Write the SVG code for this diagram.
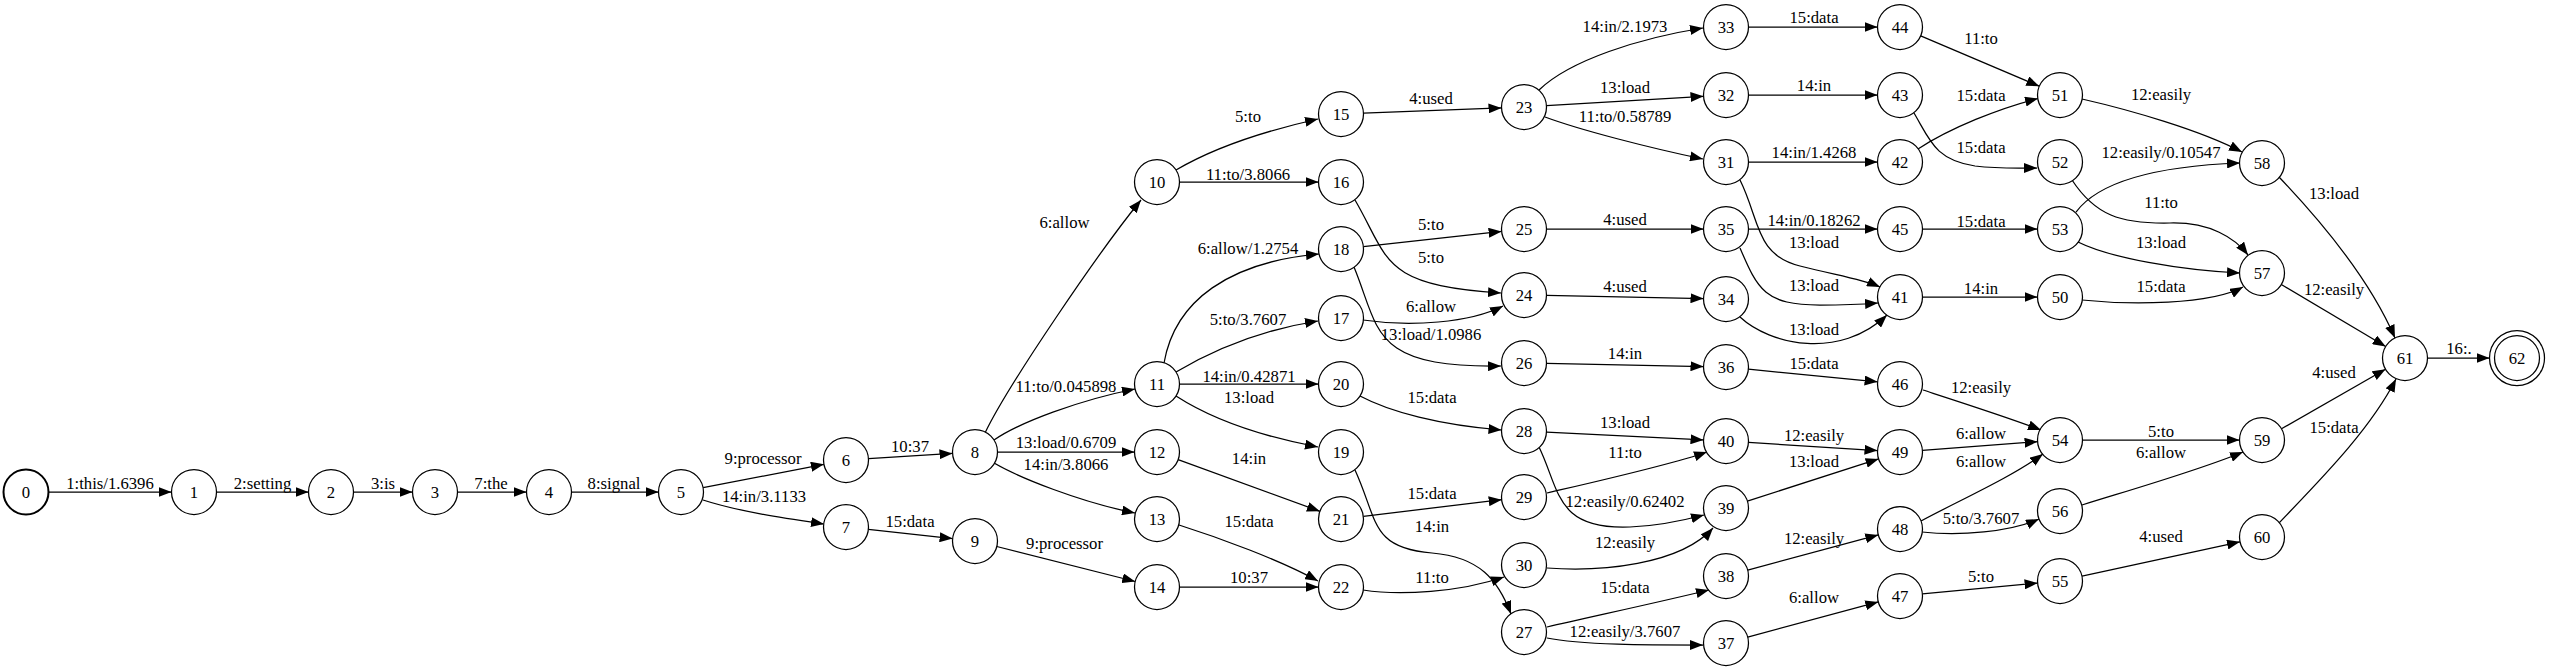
<svg xmlns="http://www.w3.org/2000/svg" width="2550" height="671" viewBox="0 0 2550 671">
<defs>
<marker id="ah" viewBox="0 0 13 10" refX="13" refY="5" markerWidth="13" markerHeight="10" markerUnits="userSpaceOnUse" orient="auto">
<path d="M0,0 L13,5 L0,10 z" fill="#000"/>
</marker>
<style>
.n circle{fill:#fff;stroke:#000;stroke-width:1.25}
.n text,.e text{font-family:"Liberation Serif","Times New Roman",serif;font-size:16.7px;text-anchor:middle;fill:#000}
.e path{fill:none;stroke:#000;stroke-width:1.25;marker-end:url(#ah)}
</style>
</defs>
<rect width="2550" height="671" fill="#fff"/>
<g id="edges">
<g class="e"><path d="M48.5,492 L171.5,492"/><text x="110" y="488.7">1:this/1.6396</text></g>
<g class="e"><path d="M216.5,492 L308.5,492"/><text x="262.5" y="488.7">2:setting</text></g>
<g class="e"><path d="M353.5,492 L412.5,492"/><text x="383" y="488.7">3:is</text></g>
<g class="e"><path d="M457.5,492 L526.5,492"/><text x="491" y="488.7">7:the</text></g>
<g class="e"><path d="M571.5,492 L658.5,492"/><text x="614" y="488.7">8:signal</text></g>
<g class="e"><path d="M703.1,487.7 L823.9,464.3"/><text x="763" y="464">9:processor</text></g>
<g class="e"><path d="M703,500 C740,512 790,519 824,524"/><text x="764" y="502">14:in/3.1133</text></g>
<g class="e"><path d="M868.5,458.6 L952.5,453.4"/><text x="910" y="452">10:37</text></g>
<g class="e"><path d="M868.4,529.4 L952.6,538.6"/><text x="910" y="527">15:data</text></g>
<g class="e"><path d="M985,433 C1008,385 1100,250 1141,200"/><text x="1064.5" y="228">6:allow</text></g>
<g class="e"><path d="M994,440 C1020,422 1080,400 1135,389"/><text x="1066" y="392">11:to/0.045898</text></g>
<g class="e"><path d="M997.5,452 L1134.5,452"/><text x="1066" y="448">13:load/0.6709</text></g>
<g class="e"><path d="M994,463 C1020,478 1080,502 1135,513"/><text x="1066" y="470">14:in/3.8066</text></g>
<g class="e"><path d="M996.8,546.5 L1135.2,581.5"/><text x="1064.5" y="549">9:processor</text></g>
<g class="e"><path d="M1176,170 C1210,150 1260,132 1318,119"/><text x="1248" y="122">5:to</text></g>
<g class="e"><path d="M1179.5,182 L1318.5,182"/><text x="1248" y="180">11:to/3.8066</text></g>
<g class="e"><path d="M1164,363 C1175,300 1230,262 1319,254"/><text x="1248" y="254">6:allow/1.2754</text></g>
<g class="e"><path d="M1176,372 C1210,352 1260,330 1318,321"/><text x="1248" y="325">5:to/3.7607</text></g>
<g class="e"><path d="M1179.5,384 L1318.5,384"/><text x="1249" y="382">14:in/0.42871</text></g>
<g class="e"><path d="M1176,396 C1210,418 1260,436 1318,447"/><text x="1249" y="403">13:load</text></g>
<g class="e"><path d="M1178.1,459.7 L1319.9,511.3"/><text x="1249" y="464">14:in</text></g>
<g class="e"><path d="M1179,525 C1220,538 1280,560 1318,581"/><text x="1249" y="527">15:data</text></g>
<g class="e"><path d="M1179.5,587 L1318.5,587"/><text x="1249" y="583">10:37</text></g>
<g class="e"><path d="M1363.5,113.1 L1501.5,107.9"/><text x="1431" y="104">4:used</text></g>
<g class="e"><path d="M1363.4,246.6 L1501.6,231.4"/><text x="1431" y="230">5:to</text></g>
<g class="e"><path d="M1355,200 C1390,260 1380,285 1501,293"/><text x="1431" y="263">5:to</text></g>
<g class="e"><path d="M1363,320 C1410,327 1470,323 1503,306"/><text x="1431" y="312">6:allow</text></g>
<g class="e"><path d="M1354,267 C1380,330 1370,368 1501,366"/><text x="1431" y="340">13:load/1.0986</text></g>
<g class="e"><path d="M1360,396 C1390,412 1440,425 1501.5,430"/><text x="1432" y="403">15:data</text></g>
<g class="e"><path d="M1355,470 C1378,520 1370,548 1432,553 C1480,557 1498,580 1511,614"/><text x="1432" y="532">14:in</text></g>
<g class="e"><path d="M1363.3,516.3 L1501.7,499.7"/><text x="1432" y="499">15:data</text></g>
<g class="e"><path d="M1363,590 C1400,596 1460,592 1504,577"/><text x="1432" y="583">11:to</text></g>
<g class="e"><path d="M1539,90 C1570,60 1640,38 1703,28"/><text x="1625" y="32">14:in/2.1973</text></g>
<g class="e"><path d="M1546.5,105.7 L1703.5,96.3"/><text x="1625" y="93">13:load</text></g>
<g class="e"><path d="M1545,117 C1580,130 1650,148 1703,159"/><text x="1625" y="122">11:to/0.58789</text></g>
<g class="e"><path d="M1546.5,229 L1703.5,229"/><text x="1625" y="225">4:used</text></g>
<g class="e"><path d="M1546.5,295.4 L1703.5,298.6"/><text x="1625" y="292">4:used</text></g>
<g class="e"><path d="M1546.5,363.4 L1703.5,366.6"/><text x="1625" y="359">14:in</text></g>
<g class="e"><path d="M1546.5,432.1 L1703.5,439.9"/><text x="1625" y="428">13:load</text></g>
<g class="e"><path d="M1539,447 C1560,490 1555,530 1630,527 C1660,526 1685,520 1704,515"/><text x="1625" y="507">12:easily/0.62402</text></g>
<g class="e"><path d="M1547,493 C1590,483 1670,465 1707,452"/><text x="1625" y="458">11:to</text></g>
<g class="e"><path d="M1547,568 C1600,572 1680,565 1713,528"/><text x="1625" y="548">12:easily</text></g>
<g class="e"><path d="M1547,627 C1590,617 1660,602 1709,590"/><text x="1625" y="593">15:data</text></g>
<g class="e"><path d="M1547,638 C1580,645 1650,645 1703,645"/><text x="1625" y="637">12:easily/3.7607</text></g>
<g class="e"><path d="M1748.5,27 L1877.5,27"/><text x="1814" y="23">15:data</text></g>
<g class="e"><path d="M1748.5,95 L1877.5,95"/><text x="1814" y="91">14:in</text></g>
<g class="e"><path d="M1748.5,162 L1877.5,162"/><text x="1814" y="158">14:in/1.4268</text></g>
<g class="e"><path d="M1740,180 C1760,220 1755,255 1800,266 C1840,276 1862,279 1880,287"/><text x="1814" y="248">13:load</text></g>
<g class="e"><path d="M1748.5,229 L1877.5,229"/><text x="1814" y="226">14:in/0.18262</text></g>
<g class="e"><path d="M1740,248 C1758,290 1765,305 1820,305 C1850,305 1865,304 1878,303"/><text x="1814" y="291">13:load</text></g>
<g class="e"><path d="M1740,317 C1770,345 1840,360 1887,315"/><text x="1814" y="335">13:load</text></g>
<g class="e"><path d="M1748.4,369.2 L1877.6,381.8"/><text x="1814" y="369">15:data</text></g>
<g class="e"><path d="M1748.5,442.4 L1877.5,450.6"/><text x="1814" y="441">12:easily</text></g>
<g class="e"><path d="M1747.4,501.1 L1878.6,458.9"/><text x="1814" y="467">13:load</text></g>
<g class="e"><path d="M1747.7,570.1 L1878.3,534.9"/><text x="1814" y="544">12:easily</text></g>
<g class="e"><path d="M1747.7,637.1 L1878.3,601.9"/><text x="1814" y="603">6:allow</text></g>
<g class="e"><path d="M1920.7,35.8 L2039.3,86.2"/><text x="1981" y="44">11:to</text></g>
<g class="e"><path d="M1918,149 C1950,128 2000,108 2038,98.5"/><text x="1981" y="101">15:data</text></g>
<g class="e"><path d="M1914,113 C1930,140 1935,160 1975,166 C2000,169 2020,168 2037,168"/><text x="1981" y="153">15:data</text></g>
<g class="e"><path d="M1922.5,229 L2037.5,229"/><text x="1981" y="227">15:data</text></g>
<g class="e"><path d="M1922.5,297 L2037.5,297"/><text x="1981" y="294">14:in</text></g>
<g class="e"><path d="M1923,390 C1960,402 2010,418 2041,430"/><text x="1981" y="393">12:easily</text></g>
<g class="e"><path d="M1922.4,450.3 L2037.6,441.7"/><text x="1981" y="439">6:allow</text></g>
<g class="e"><path d="M1921,521 C1960,500 2010,478 2043,454"/><text x="1981" y="467">6:allow</text></g>
<g class="e"><path d="M1922,532 C1960,536 2010,532 2039,519"/><text x="1981" y="524">5:to/3.7607</text></g>
<g class="e"><path d="M1922.4,593.9 L2037.6,583.1"/><text x="1981" y="582">5:to</text></g>
<g class="e"><path d="M2082,99 C2130,110 2200,130 2242,152"/><text x="2161" y="100">12:easily</text></g>
<g class="e"><path d="M2076,212 C2100,180 2160,166 2240,163"/><text x="2161" y="158">12:easily/0.10547</text></g>
<g class="e"><path d="M2072,180 C2095,215 2120,224 2170,223 C2210,222 2235,238 2248,255"/><text x="2161" y="208">11:to</text></g>
<g class="e"><path d="M2078,242 C2110,258 2180,270 2240,273"/><text x="2161" y="248">13:load</text></g>
<g class="e"><path d="M2082,300 C2130,305 2210,305 2243,287"/><text x="2161" y="292">15:data</text></g>
<g class="e"><path d="M2082.5,440 L2239.5,440"/><text x="2161" y="437">5:to</text></g>
<g class="e"><path d="M2082,505 C2130,490 2200,470 2243,452"/><text x="2161" y="458">6:allow</text></g>
<g class="e"><path d="M2082,576.2 L2240,541.8"/><text x="2161" y="542">4:used</text></g>
<g class="e"><path d="M2279,177 C2320,220 2370,280 2395,338"/><text x="2334" y="199">13:load</text></g>
<g class="e"><path d="M2281.3,284.5 L2385.7,346.5"/><text x="2334" y="295">12:easily</text></g>
<g class="e"><path d="M2281.5,428.8 L2385.5,369.2"/><text x="2334" y="378">4:used</text></g>
<g class="e"><path d="M2279,523 C2320,480 2370,430 2396,379"/><text x="2334" y="433">15:data</text></g>
<g class="e"><path d="M2427.5,358 L2489.5,358"/><text x="2459" y="354">16:.</text></g>
</g>
<g id="node0" class="n"><circle cx="26" cy="492" r="22.5" style="stroke-width:2"/><text x="26" y="498">0</text></g>
<g id="node1" class="n"><circle cx="194" cy="492" r="22.5"/><text x="194" y="498">1</text></g>
<g id="node2" class="n"><circle cx="331" cy="492" r="22.5"/><text x="331" y="498">2</text></g>
<g id="node3" class="n"><circle cx="435" cy="492" r="22.5"/><text x="435" y="498">3</text></g>
<g id="node4" class="n"><circle cx="549" cy="492" r="22.5"/><text x="549" y="498">4</text></g>
<g id="node5" class="n"><circle cx="681" cy="492" r="22.5"/><text x="681" y="498">5</text></g>
<g id="node6" class="n"><circle cx="846" cy="460" r="22.5"/><text x="846" y="466">6</text></g>
<g id="node7" class="n"><circle cx="846" cy="527" r="22.5"/><text x="846" y="533">7</text></g>
<g id="node8" class="n"><circle cx="975" cy="452" r="22.5"/><text x="975" y="458">8</text></g>
<g id="node9" class="n"><circle cx="975" cy="541" r="22.5"/><text x="975" y="547">9</text></g>
<g id="node10" class="n"><circle cx="1157" cy="182" r="22.5"/><text x="1157" y="188">10</text></g>
<g id="node11" class="n"><circle cx="1157" cy="384" r="22.5"/><text x="1157" y="390">11</text></g>
<g id="node12" class="n"><circle cx="1157" cy="452" r="22.5"/><text x="1157" y="458">12</text></g>
<g id="node13" class="n"><circle cx="1157" cy="519" r="22.5"/><text x="1157" y="525">13</text></g>
<g id="node14" class="n"><circle cx="1157" cy="587" r="22.5"/><text x="1157" y="593">14</text></g>
<g id="node15" class="n"><circle cx="1341" cy="114" r="22.5"/><text x="1341" y="120">15</text></g>
<g id="node16" class="n"><circle cx="1341" cy="182" r="22.5"/><text x="1341" y="188">16</text></g>
<g id="node17" class="n"><circle cx="1341" cy="318" r="22.5"/><text x="1341" y="324">17</text></g>
<g id="node18" class="n"><circle cx="1341" cy="249" r="22.5"/><text x="1341" y="255">18</text></g>
<g id="node19" class="n"><circle cx="1341" cy="452" r="22.5"/><text x="1341" y="458">19</text></g>
<g id="node20" class="n"><circle cx="1341" cy="384" r="22.5"/><text x="1341" y="390">20</text></g>
<g id="node21" class="n"><circle cx="1341" cy="519" r="22.5"/><text x="1341" y="525">21</text></g>
<g id="node22" class="n"><circle cx="1341" cy="587" r="22.5"/><text x="1341" y="593">22</text></g>
<g id="node23" class="n"><circle cx="1524" cy="107" r="22.5"/><text x="1524" y="113">23</text></g>
<g id="node24" class="n"><circle cx="1524" cy="295" r="22.5"/><text x="1524" y="301">24</text></g>
<g id="node25" class="n"><circle cx="1524" cy="229" r="22.5"/><text x="1524" y="235">25</text></g>
<g id="node26" class="n"><circle cx="1524" cy="363" r="22.5"/><text x="1524" y="369">26</text></g>
<g id="node27" class="n"><circle cx="1524" cy="632" r="22.5"/><text x="1524" y="638">27</text></g>
<g id="node28" class="n"><circle cx="1524" cy="431" r="22.5"/><text x="1524" y="437">28</text></g>
<g id="node29" class="n"><circle cx="1524" cy="497" r="22.5"/><text x="1524" y="503">29</text></g>
<g id="node30" class="n"><circle cx="1524" cy="565" r="22.5"/><text x="1524" y="571">30</text></g>
<g id="node31" class="n"><circle cx="1726" cy="162" r="22.5"/><text x="1726" y="168">31</text></g>
<g id="node32" class="n"><circle cx="1726" cy="95" r="22.5"/><text x="1726" y="101">32</text></g>
<g id="node33" class="n"><circle cx="1726" cy="27" r="22.5"/><text x="1726" y="33">33</text></g>
<g id="node34" class="n"><circle cx="1726" cy="299" r="22.5"/><text x="1726" y="305">34</text></g>
<g id="node35" class="n"><circle cx="1726" cy="229" r="22.5"/><text x="1726" y="235">35</text></g>
<g id="node36" class="n"><circle cx="1726" cy="367" r="22.5"/><text x="1726" y="373">36</text></g>
<g id="node37" class="n"><circle cx="1726" cy="643" r="22.5"/><text x="1726" y="649">37</text></g>
<g id="node38" class="n"><circle cx="1726" cy="576" r="22.5"/><text x="1726" y="582">38</text></g>
<g id="node39" class="n"><circle cx="1726" cy="508" r="22.5"/><text x="1726" y="514">39</text></g>
<g id="node40" class="n"><circle cx="1726" cy="441" r="22.5"/><text x="1726" y="447">40</text></g>
<g id="node41" class="n"><circle cx="1900" cy="297" r="22.5"/><text x="1900" y="303">41</text></g>
<g id="node42" class="n"><circle cx="1900" cy="162" r="22.5"/><text x="1900" y="168">42</text></g>
<g id="node43" class="n"><circle cx="1900" cy="95" r="22.5"/><text x="1900" y="101">43</text></g>
<g id="node44" class="n"><circle cx="1900" cy="27" r="22.5"/><text x="1900" y="33">44</text></g>
<g id="node45" class="n"><circle cx="1900" cy="229" r="22.5"/><text x="1900" y="235">45</text></g>
<g id="node46" class="n"><circle cx="1900" cy="384" r="22.5"/><text x="1900" y="390">46</text></g>
<g id="node47" class="n"><circle cx="1900" cy="596" r="22.5"/><text x="1900" y="602">47</text></g>
<g id="node48" class="n"><circle cx="1900" cy="529" r="22.5"/><text x="1900" y="535">48</text></g>
<g id="node49" class="n"><circle cx="1900" cy="452" r="22.5"/><text x="1900" y="458">49</text></g>
<g id="node50" class="n"><circle cx="2060" cy="297" r="22.5"/><text x="2060" y="303">50</text></g>
<g id="node51" class="n"><circle cx="2060" cy="95" r="22.5"/><text x="2060" y="101">51</text></g>
<g id="node52" class="n"><circle cx="2060" cy="162" r="22.5"/><text x="2060" y="168">52</text></g>
<g id="node53" class="n"><circle cx="2060" cy="229" r="22.5"/><text x="2060" y="235">53</text></g>
<g id="node54" class="n"><circle cx="2060" cy="440" r="22.5"/><text x="2060" y="446">54</text></g>
<g id="node55" class="n"><circle cx="2060" cy="581" r="22.5"/><text x="2060" y="587">55</text></g>
<g id="node56" class="n"><circle cx="2060" cy="511" r="22.5"/><text x="2060" y="517">56</text></g>
<g id="node57" class="n"><circle cx="2262" cy="273" r="22.5"/><text x="2262" y="279">57</text></g>
<g id="node58" class="n"><circle cx="2262" cy="163" r="22.5"/><text x="2262" y="169">58</text></g>
<g id="node59" class="n"><circle cx="2262" cy="440" r="22.5"/><text x="2262" y="446">59</text></g>
<g id="node60" class="n"><circle cx="2262" cy="537" r="22.5"/><text x="2262" y="543">60</text></g>
<g id="node61" class="n"><circle cx="2405" cy="358" r="22.5"/><text x="2405" y="364">61</text></g>
<g id="node62" class="n"><circle cx="2517" cy="358" r="27.5"/><circle cx="2517" cy="358" r="22.5"/><text x="2517" y="364">62</text></g>
</svg>
